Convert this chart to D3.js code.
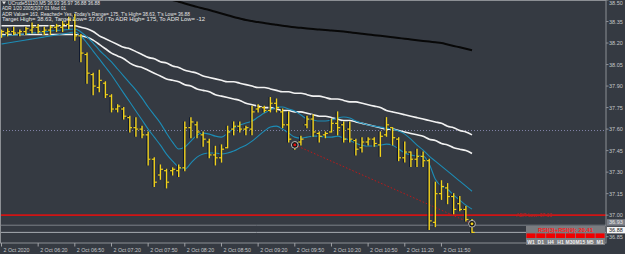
<!DOCTYPE html>
<html>
<head>
<meta charset="utf-8">
<script src="https://cdn.jsdelivr.net/npm/d3@7"></script>
<style>
  body { margin: 0; background: #353a42; }
  svg { display: block; }
</style>
</head>
<body>
<div id="chart"></div>
<script>
// UCrude51120, M5 bars (index 0 = first bar on screen)
const barOpen = [38.26,38.27,38.28,38.27,38.28,38.29,38.31,38.28,38.29,38.31,38.31,38.33,38.36,
  38.25,38.12,37.98,37.89,37.92,37.83,37.74,37.74,37.68,37.61,37.60,37.56,
  37.39,37.28,37.31,37.31,37.31,37.33,37.61,37.63,37.56,37.51,37.42,37.40,
  37.47,37.60,37.62,37.60,37.60,37.74,37.75,37.73,37.78,37.72,37.63,37.50,
  37.51,37.63,37.67,37.57,37.56,37.58,37.64,37.63,37.60,37.52,37.47,37.51,
  37.53,37.49,37.56,37.61,37.53,37.40,37.44,37.39,37.41,37.38,36.95,37.15,
  37.19,37.13,37.08,37.04,36.93];
const barHigh = [38.29,38.30,38.31,38.29,38.31,38.34,38.33,38.31,38.32,38.33,38.35,38.38,38.40,
  38.26,38.13,37.99,38.01,37.93,37.84,37.77,37.75,37.69,37.68,37.62,37.58,
  37.40,37.35,37.32,37.33,37.35,37.65,37.68,37.65,37.58,37.53,37.48,37.49,
  37.62,37.65,37.65,37.62,37.76,37.77,37.76,37.82,37.81,37.74,37.72,37.51,
  37.55,37.69,37.70,37.58,37.58,37.67,37.72,37.65,37.65,37.53,37.54,37.54,
  37.54,37.58,37.68,37.61,37.54,37.51,37.44,37.46,37.44,37.39,37.23,37.24,
  37.22,37.15,37.13,37.06,36.97];
const barLow = [38.24,38.25,38.26,38.25,38.26,38.27,38.27,38.26,38.26,38.28,38.28,38.30,38.22,
  38.07,37.92,37.84,37.86,37.82,37.72,37.72,37.67,37.58,37.55,37.54,37.35,
  37.20,37.25,37.19,37.28,37.27,37.31,37.54,37.54,37.48,37.40,37.35,37.37,
  37.47,37.56,37.58,37.56,37.56,37.72,37.72,37.72,37.72,37.61,37.51,37.46,
  37.49,37.61,37.55,37.51,37.54,37.58,37.56,37.51,37.51,37.42,37.44,37.49,
  37.48,37.41,37.55,37.49,37.38,37.37,37.34,37.34,37.34,36.90,36.92,37.11,
  37.08,37.01,37.03,36.96,36.88];
const barClose = [38.28,38.28,38.27,38.28,38.30,38.31,38.28,38.29,38.31,38.32,38.33,38.36,38.25,
  38.13,37.99,37.90,37.94,37.84,37.74,37.76,37.69,37.61,37.60,37.56,37.39,
  37.23,37.32,37.23,37.32,37.33,37.61,37.65,37.58,37.53,37.42,37.40,37.46,
  37.58,37.62,37.60,37.61,37.72,37.75,37.73,37.78,37.75,37.63,37.53,37.49,
  37.53,37.67,37.58,37.55,37.57,37.64,37.61,37.53,37.53,37.46,37.51,37.53,
  37.50,37.55,37.63,37.54,37.40,37.44,37.39,37.41,37.38,36.96,37.15,37.20,
  37.13,37.04,37.04,36.97,36.88];

// moving averages / envelope, one value per bar
const maBlack = [38.80,38.79,38.78,38.77,38.76,38.75,38.74,38.73,38.72,38.71,
  38.70,38.69,38.68,38.67,38.66,38.65,38.64,38.63,38.62,38.61,
  38.60,38.59,38.58,38.565,38.55,38.535,38.52,38.51,38.50,38.488,
  38.476,38.464,38.452,38.441,38.43,38.418,38.406,38.394,38.382,38.371,
  38.36,38.353,38.346,38.34,38.333,38.327,38.321,38.315,38.31,38.306,
  38.302,38.298,38.294,38.291,38.287,38.284,38.28,38.275,38.27,38.265,
  38.26,38.255,38.25,38.245,38.24,38.235,38.23,38.225,38.22,38.215,
  38.21,38.205,38.20,38.19,38.18,38.17,38.16,38.15];
const bandUpper = [38.32,38.32,38.32,38.32,38.32,38.32,38.32,38.32,38.32,38.32,38.32,38.32,38.32,
  38.31,38.30,38.28,38.25,38.23,38.21,38.19,38.17,38.16,38.14,
  38.12,38.10,38.09,38.07,38.06,38.04,38.03,38.01,38.00,37.99,
  37.97,37.96,37.95,37.94,37.93,37.93,37.92,37.91,37.90,37.89,
  37.89,37.88,37.87,37.86,37.86,37.85,37.85,37.84,37.83,37.83,
  37.82,37.81,37.81,37.80,37.79,37.79,37.78,37.77,37.76,37.75,
  37.73,37.72,37.71,37.70,37.69,37.68,37.67,37.66,37.65,37.64,
  37.62,37.61,37.59,37.58,37.56];
const bandLower = [38.26,38.26,38.26,38.26,38.26,38.26,38.26,38.26,38.26,38.26,38.26,38.26,38.26,
  38.25,38.24,38.22,38.19,38.16,38.13,38.11,38.09,38.06,38.04,
  38.03,38.01,37.99,37.97,37.95,37.94,37.93,37.91,37.90,37.88,
  37.87,37.86,37.84,37.83,37.82,37.81,37.80,37.78,37.77,37.76,
  37.75,37.75,37.74,37.73,37.73,37.72,37.72,37.71,37.70,37.69,
  37.69,37.68,37.67,37.66,37.66,37.65,37.64,37.63,37.62,37.61,
  37.60,37.60,37.59,37.58,37.57,37.56,37.55,37.53,37.52,37.50,
  37.49,37.47,37.46,37.45,37.43];
const maSlow = [38.249,38.253,38.256,38.260,38.263,38.270,38.274,38.277,38.284,38.288,
  38.291,38.295,38.298,38.277,38.242,38.200,38.151,38.110,38.068,38.019,
  37.970,37.921,37.872,37.816,37.754,37.698,37.642,37.572,37.509,37.461,
  37.475,37.516,37.558,37.572,37.565,37.551,37.544,37.572,37.607,37.628,
  37.642,37.656,37.684,37.712,37.733,37.754,37.754,37.740,37.726,37.698,
  37.670,37.663,37.656,37.656,37.663,37.677,37.684,37.677,37.656,37.642,
  37.628,37.621,37.614,37.607,37.600,37.586,37.565,37.530,37.488,37.454,
  37.412,37.377,37.342,37.307,37.272,37.237,37.202,37.167];
const maFast = [38.193,38.200,38.207,38.214,38.221,38.228,38.235,38.242,38.249,38.256,
  38.263,38.270,38.277,38.249,38.200,38.144,38.089,38.033,37.977,37.914,
  37.851,37.789,37.726,37.663,37.600,37.544,37.488,37.426,37.377,37.335,
  37.321,37.363,37.405,37.426,37.433,37.433,37.426,37.433,37.447,37.468,
  37.488,37.516,37.551,37.586,37.614,37.621,37.600,37.572,37.544,37.537,
  37.544,37.551,37.551,37.544,37.544,37.551,37.537,37.523,37.502,37.488,
  37.482,37.482,37.488,37.495,37.488,37.461,37.433,37.419,37.412,37.412,
  37.356,37.251,37.202,37.181,37.140,37.105,37.070,37.042];

// axis labels
const timeLabels = ["2 Oct 2020","2 Oct 06:20","2 Oct 06:50","2 Oct 07:20","2 Oct 07:50",
  "2 Oct 08:20","2 Oct 08:50","2 Oct 09:20","2 Oct 09:50","2 Oct 10:20",
  "2 Oct 10:50","2 Oct 11:20","2 Oct 11:50"];
const timeLabelBars = [0,6,12,18,24,30,36,42,48,54,60,66,72];
const priceTicks = [38.50,38.35,38.20,38.05,37.90,37.75,37.60,37.45,37.30,37.15,37.00,36.85];

// levels and markers
const adrLow = 37.00;
const dayOpen = 37.59;
const askPrice = 36.93;
const bidPrice = 36.88;
const swingBars = [48, 77];
const swingPrices = [37.49, 36.94];
const swingColors = ["#e01010", "#f2d21b"];

const headerLines = [
  "UCrude51120,M5  36.93 36.97 36.88 36.88",
  "ADR 1/20 2005|3|37 01 Mod 01",
  "ADR Value= 163, Reached= Yes, Today's Range= 175, T's High= 38.63, T's Low= 36.88",
  "Target High= 38.63, Target Low= 37.00 / To ADR High= 175, To ADR Low= -12"
];
const headerWidths = [92, 64, 188, 203];

const rsiText = "RSI(3)+RSI(9):  20.41";
const rsiFrames = ["W1","D1","H4","H1","M30","M15","M5","M1"];

// set the dimensions
const W = 625, H = 254;
const plotRight = 606, plotBottom = 243;

var svg = d3.select("#chart")
  .append("svg")
    .attr("width", W)
    .attr("height", H)
    .style("font-family", "'Liberation Sans', Arial, sans-serif");

svg.append("rect").attr("width", W).attr("height", H).attr("fill", "#353a42");

svg.append("defs").append("clipPath").attr("id", "plot")
  .append("rect").attr("x", 0).attr("y", 0).attr("width", plotRight).attr("height", plotBottom);

// scales
var x = d3.scaleLinear().domain([0, 77]).range([1.5, 472]);
var y = d3.scaleLinear().domain([36.806, 38.50]).range([plotBottom, 0]);

var plot = svg.append("g").attr("clip-path", "url(#plot)");

// horizontal levels
plot.append("line")
  .attr("x1", 0).attr("x2", plotRight)
  .attr("y1", y(dayOpen)).attr("y2", y(dayOpen))
  .attr("stroke", "#8484aa").attr("stroke-width", 1)
  .attr("stroke-dasharray", "1,2");

plot.append("line")
  .attr("x1", 0).attr("x2", plotRight)
  .attr("y1", y(askPrice)).attr("y2", y(askPrice))
  .attr("stroke", "#7c8088").attr("stroke-width", 1);
plot.append("line")
  .attr("x1", 0).attr("x2", plotRight)
  .attr("y1", y(bidPrice)).attr("y2", y(bidPrice))
  .attr("stroke", "#a8acb2").attr("stroke-width", 1);

// lines
function maLine(vals) {
  return d3.line()
    .x(function(d, i) { return x(i); })
    .y(function(d) { return y(d); })
    .curve(d3.curveMonotoneX)(vals);
}

plot.append("path").attr("d", maLine(maBlack))
  .attr("fill", "none").attr("stroke", "#080808").attr("stroke-width", 2);
plot.append("path").attr("d", maLine(bandUpper))
  .attr("fill", "none").attr("stroke", "#f2f2f2").attr("stroke-width", 1.6);
plot.append("path").attr("d", maLine(bandLower))
  .attr("fill", "none").attr("stroke", "#f2f2f2").attr("stroke-width", 1.6);
plot.append("path").attr("d", maLine(maSlow))
  .attr("fill", "none").attr("stroke", "#1c8cb6").attr("stroke-width", 1.1);
plot.append("path").attr("d", maLine(maFast))
  .attr("fill", "none").attr("stroke", "#1c8cb6").attr("stroke-width", 1.1);

// swing trend line
plot.append("line")
  .attr("x1", x(swingBars[0])).attr("y1", y(swingPrices[0]))
  .attr("x2", x(swingBars[1])).attr("y2", y(swingPrices[1]))
  .attr("stroke", "#c01818").attr("stroke-width", 1)
  .attr("stroke-dasharray", "1.5,2");

// red ADR low line
plot.append("line")
  .attr("x1", 0).attr("x2", plotRight)
  .attr("y1", y(adrLow)).attr("y2", y(adrLow))
  .attr("stroke", "#d01414").attr("stroke-width", 1.6);
plot.append("text")
  .attr("x", 516).attr("y", y(adrLow) + 2)
  .attr("fill", "#b82020").attr("font-size", 6)
  .attr("textLength", 36).attr("lengthAdjust", "spacingAndGlyphs")
  .text("ADR Low: " + adrLow.toFixed(2));

// OHLC bars
var bars = plot.selectAll(".bar")
  .data(barOpen.map(function(o, i) { return i; }))
  .join("g")
  .attr("class", "bar")
  .attr("transform", function(i) { return "translate(" + x(i) + ",0)"; });

// dark shadow then the yellow bar
[{dx: -1.2, col: "#0f1a30", w: 1.3}, {dx: 0, col: "#f2d21b", w: 1.4}].forEach(function(s) {
  bars.append("line")
    .attr("x1", s.dx).attr("x2", s.dx)
    .attr("y1", function(i) { return y(barHigh[i]) - 0.5; })
    .attr("y2", function(i) { return y(barLow[i]) + 0.5; })
    .attr("stroke", s.col).attr("stroke-width", s.w);
  bars.append("line")
    .attr("x1", s.dx - 2.6).attr("x2", s.dx)
    .attr("y1", function(i) { return y(barOpen[i]); })
    .attr("y2", function(i) { return y(barOpen[i]); })
    .attr("stroke", s.col).attr("stroke-width", 1.2);
  bars.append("line")
    .attr("x1", s.dx).attr("x2", s.dx + 2.6)
    .attr("y1", function(i) { return y(barClose[i]); })
    .attr("y2", function(i) { return y(barClose[i]); })
    .attr("stroke", s.col).attr("stroke-width", 1.2);
});

// swing markers
swingBars.forEach(function(b, k) {
  plot.append("circle")
    .attr("cx", x(b)).attr("cy", y(swingPrices[k])).attr("r", 3.4)
    .attr("fill", "#1a1a1a").attr("stroke", "#b8b8b8").attr("stroke-width", 1);
  plot.append("circle")
    .attr("cx", x(b)).attr("cy", y(swingPrices[k])).attr("r", 1.4)
    .attr("fill", swingColors[k]);
});

// frame
svg.append("rect")
  .attr("x", 0.5).attr("y", 0.5)
  .attr("width", plotRight - 0.5).attr("height", plotBottom - 0.5)
  .attr("fill", "none").attr("stroke", "#8c8f94").attr("stroke-width", 1);

// price axis
var py = svg.append("g").attr("fill", "#c4c6c8").attr("font-size", 5.5);
priceTicks.forEach(function(p) {
  py.append("line")
    .attr("x1", plotRight).attr("x2", plotRight + 2.5)
    .attr("y1", y(p)).attr("y2", y(p))
    .attr("stroke", "#8c8f94");
  py.append("text")
    .attr("x", plotRight + 3).attr("y", Math.max(y(p) + 2, 5))
    .text(p.toFixed(2));
});

// ask / bid price boxes
svg.append("rect")
  .attr("x", plotRight + 1).attr("y", y(askPrice) - 6).attr("width", 18).attr("height", 6.5)
  .attr("fill", "#7c8088");
svg.append("text")
  .attr("x", plotRight + 3).attr("y", y(askPrice) - 1)
  .attr("fill", "#e6e6e6").attr("font-size", 5.5).text(askPrice.toFixed(2));
svg.append("rect")
  .attr("x", plotRight + 1).attr("y", y(bidPrice) - 5.5).attr("width", 18).attr("height", 6.5)
  .attr("fill", "#f4f4f4");
svg.append("text")
  .attr("x", plotRight + 3).attr("y", y(bidPrice) - 0.5)
  .attr("fill", "#202020").attr("font-size", 5.5).text(bidPrice.toFixed(2));

// time axis
var tx = svg.append("g").attr("fill", "#c4c6c8").attr("font-size", 5.3);
timeLabelBars.forEach(function(b, k) {
  tx.append("line")
    .attr("x1", x(b)).attr("x2", x(b))
    .attr("y1", plotBottom).attr("y2", plotBottom + 3.5)
    .attr("stroke", "#a0a2a6");
  tx.append("text")
    .attr("x", x(b) + 2).attr("y", plotBottom + 8.5)
    .text(timeLabels[k]);
});

// header text
var hdr = svg.append("g").attr("fill", "#e4e4e4").attr("font-size", 5.2);
hdr.append("path").attr("d", "M2,1.5 L6,1.5 L4,4.5 Z").attr("fill", "#e4e4e4");
headerLines.forEach(function(t, k) {
  hdr.append("text")
    .attr("x", k == 0 ? 8 : 2).attr("y", 5 + k * 5.3)
    .attr("textLength", headerWidths[k]).attr("lengthAdjust", "spacingAndGlyphs")
    .text(t);
});

// RSI panel
var rsi = svg.append("g").attr("transform", "translate(526,226)");
rsi.append("rect").attr("width", 79).attr("height", 19).attr("fill", "#7a7c80");
rsi.append("text")
  .attr("x", 39.5).attr("y", 5.6).attr("text-anchor", "middle")
  .attr("fill", "#ff1a1a").attr("font-size", 5.8).attr("font-weight", "bold")
  .text(rsiText);
var cellW = 79 / rsiFrames.length;
rsiFrames.forEach(function(f, k) {
  rsi.append("rect")
    .attr("x", k * cellW + 0.4).attr("y", 7.4)
    .attr("width", cellW - 0.8).attr("height", 4.6)
    .attr("fill", "#f00000");
  rsi.append("text")
    .attr("x", k * cellW + cellW / 2).attr("y", 17.6).attr("text-anchor", "middle")
    .attr("fill", "#f0f0f0").attr("font-size", 5).attr("font-weight", "bold")
    .text(f);
});
</script>
</body>
</html>
